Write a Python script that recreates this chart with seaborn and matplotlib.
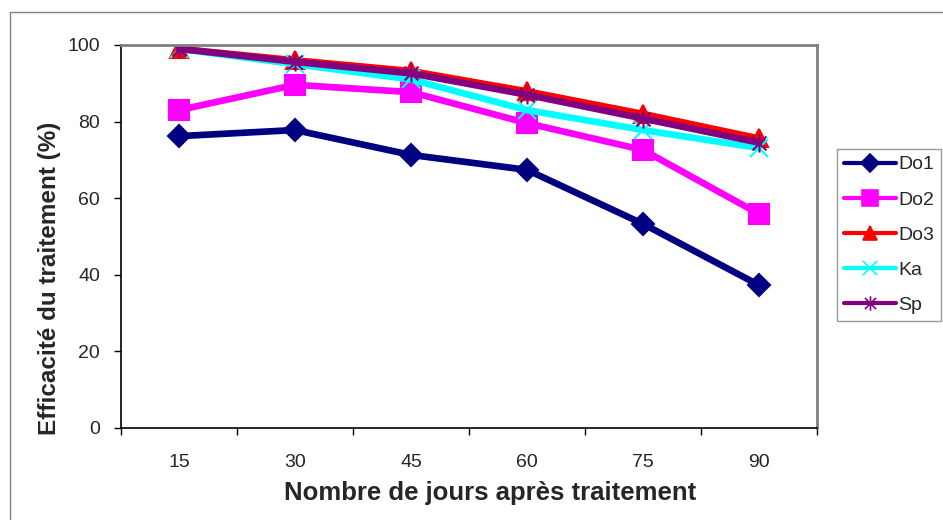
import matplotlib
matplotlib.use("Agg")
import matplotlib.pyplot as plt
import seaborn as sns
import pandas as pd
from matplotlib.lines import Line2D
from matplotlib.patches import Rectangle
from matplotlib.path import Path

# data
jours = ["15", "30", "45", "60", "75", "90"]
do1 = [76.2, 77.8, 71.3, 67.4, 53.3, 37.3]
do2 = [83.0, 89.6, 87.7, 79.6, 72.6, 55.9]
do3 = [99.0, 96.0, 93.2, 87.9, 82.0, 75.6]
ka = [99.0, 95.0, 91.0, 83.0, 77.8, 73.1]
sp = [99.0, 95.6, 92.6, 87.0, 80.8, 74.5]

series = ["Do1", "Do2", "Do3", "Ka", "Sp"]
values = [do1, do2, do3, ka, sp]
colors = ["#000080", "#FF00FF", "#FF0000", "#00FFFF", "#800080"]

# excel-like asterisk: an x with a vertical bar through it
M, L = Path.MOVETO, Path.LINETO
star = Path([(-1, -1), (1, 1), (-1, 1), (1, -1), (0, -1.3), (0, 1.3)],
            [M, L, M, L, M, L])
markers = ["D", "s", "^", "x", star]
msizes = [11, 15, 13, 13, 13]

rows = []
for name, vals in zip(series, values):
    for j, v in zip(jours, vals):
        rows.append({"jours": j, "eff": v, "serie": name})
df = pd.DataFrame(rows)

sns.set_style("white")
plt.rcParams["font.family"] = ["Liberation Sans", "DejaVu Sans"]

fig = plt.figure(figsize=(9.43, 5.20), dpi=100)
ax = fig.add_axes([121 / 943, 92 / 520, 696 / 943, 383 / 520])

handles = []
for name, col, mk, ms in zip(series, colors, markers, msizes):
    sub = df[df["serie"] == name]
    sns.lineplot(data=sub, x="jours", y="eff", ax=ax, color=col, lw=4.8,
                 marker=mk, markersize=ms, markeredgecolor=col,
                 markeredgewidth=1.5, sort=False, legend=False)
    handles.append(Line2D([], [], color=col, lw=3, marker=mk,
                          markersize=ms * 0.8, markeredgecolor=col,
                          markeredgewidth=1.2))

ax.set_xlim(-0.5, 5.5)
ax.set_ylim(0, 100)
ax.set_yticks(range(0, 101, 20))
ax.set_xticks(range(len(jours)))
ax.set_xticklabels(jours)
ax.set_xticks([i - 0.5 for i in range(len(jours) + 1)], minor=True)
ax.tick_params(axis="x", which="major", length=0, pad=19, labelsize=14)
ax.tick_params(axis="x", which="minor", length=5, width=1, color="black",
               direction="out", bottom=True)
ax.tick_params(axis="y", length=5, width=1, color="black", direction="out",
               left=True, pad=10, labelsize=14)

ax.set_xlabel("Nombre de jours après traitement", fontsize=18.5,
              fontweight="bold", labelpad=7)
ax.set_ylabel("Efficacité du traitement (%)", fontsize=17.5,
              fontweight="bold", labelpad=5)
ax.xaxis.label.set_x(0.53)
ax.yaxis.label.set_y(0.39)

for s in ["left", "bottom"]:
    ax.spines[s].set_color("black")
    ax.spines[s].set_linewidth(1.2)
for s in ["top", "right"]:
    ax.spines[s].set_color("#808080")
    ax.spines[s].set_linewidth(2)

leg = fig.legend(handles, series, loc="upper left",
                 bbox_to_anchor=(837 / 943, 1 - 149 / 520),
                 fontsize=14, frameon=True, fancybox=False,
                 handlelength=2.7, handletextpad=0.1,
                 borderpad=0.35, labelspacing=0.9, borderaxespad=0)
leg.get_frame().set_edgecolor("#808080")
leg.get_frame().set_linewidth(1)

# outer chart border (cropped on the right and bottom)
fig.patches.append(Rectangle((10 / 943, -0.05), 1.0, 1 - 12 / 520 + 0.05,
                             transform=fig.transFigure, fill=False,
                             edgecolor="#808080", lw=1))

fig.savefig("out.png", dpi=100)
